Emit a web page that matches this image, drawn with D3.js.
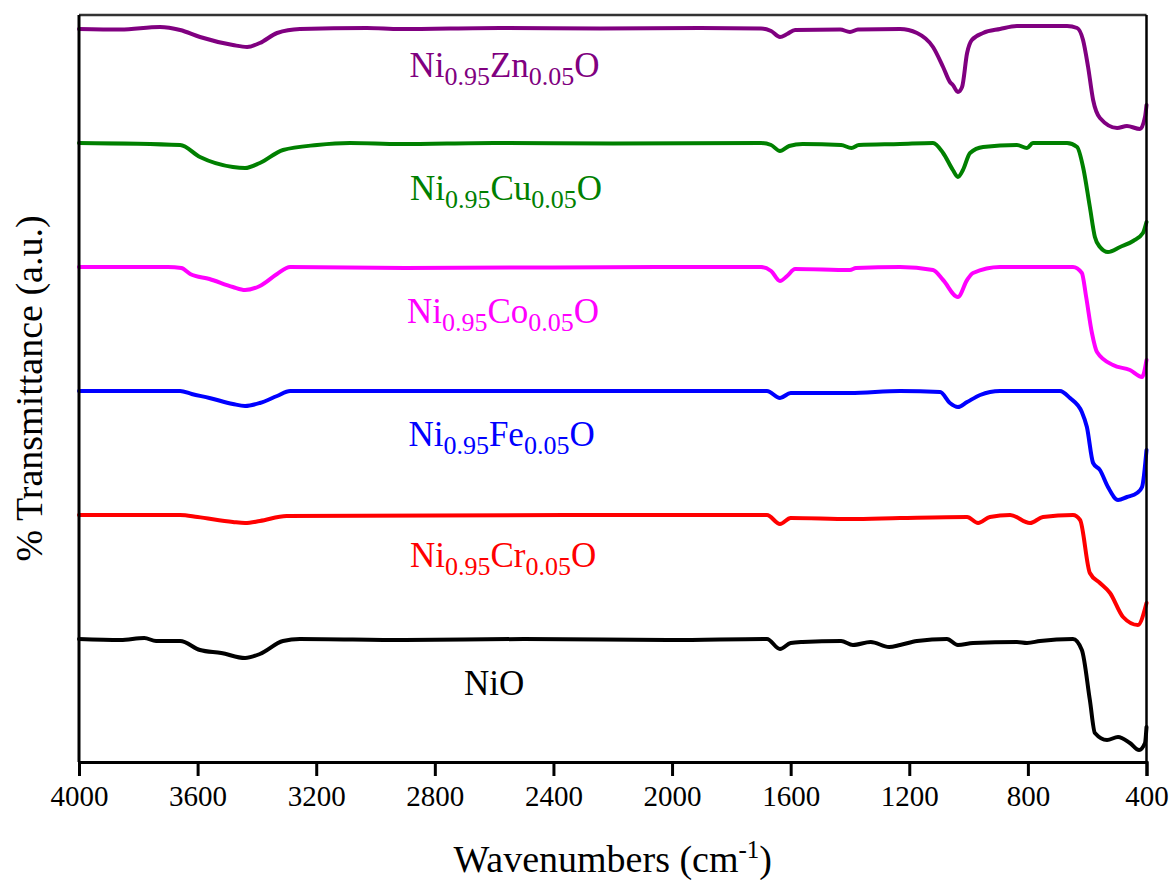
<!DOCTYPE html>
<html>
<head>
<meta charset="utf-8">
<script src="https://cdn.jsdelivr.net/npm/d3@7"></script>
<style>
  html, body { margin: 0; padding: 0; background: #fff; }
  svg { display: block; }
  text { font-family: "Liberation Serif", "Times New Roman", serif; }
</style>
</head>
<body>
<svg id="chart" width="1171" height="880"></svg>
<script>
// ---- data: [wavenumber (cm-1), transmittance (a.u., offset stacked)] ----
const xTicks = [4000, 3600, 3200, 2800, 2400, 2000, 1600, 1200, 800, 400];

const seriesNames = ["Ni0.95Zn0.05O", "Ni0.95Cu0.05O", "Ni0.95Co0.05O", "Ni0.95Fe0.05O", "Ni0.95Cr0.05O", "NiO"];

const zn = [[4000,73.3],[3860,73.25],[3727,73.5],[3659,73.2],[3592,72.5],[3481,71.7],[3433,71.5],[3390,71.9],[3332,72.9],[3255,73.3],[3029,73.4],[2917,73.3],[2580,73.4],[2243,73.35],[1905,73.4],[1700,73.35],[1666,73.1],[1636,72.5],[1612,72.8],[1585,73.2],[1433,73.25],[1400,73.0],[1373,73.25],[1231,73.3],[1174,72.9],[1120,71.5],[1086,69.5],[1063,68.0],[1053,67.7],[1036,67.0],[1022,67.5],[1005,70.9],[989,72.2],[951,72.9],[894,73.3],[837,73.6],[668,73.6],[634,73.4],[614,72.2],[597,69.5],[580,66.2],[557,64.4],[499,63.4],[466,63.6],[422,63.3],[405,64.5],[400,65.7]];

const cu = [[4000,61.9],[3659,61.7],[3592,60.5],[3481,59.5],[3440,59.4],[3390,59.9],[3312,61.2],[3197,61.7],[3086,61.9],[2917,61.8],[2600,61.9],[2200,61.85],[1700,61.9],[1666,61.7],[1636,61.1],[1605,61.6],[1560,61.8],[1430,61.7],[1395,61.4],[1370,61.7],[1231,61.8],[1120,61.9],[1086,60.9],[1053,59.2],[1036,58.5],[1019,59.2],[995,60.9],[951,61.5],[837,61.7],[803,61.4],[783,61.9],[668,61.9],[634,61.5],[614,59.5],[591,55.5],[574,52.5],[557,51.5],[530,51.0],[489,51.5],[445,52.1],[412,52.9],[400,54.0]];

const co = [[4000,49.5],[3700,49.5],[3655,49.4],[3625,48.8],[3560,48.3],[3481,47.5],[3440,47.2],[3390,47.6],[3332,48.8],[3288,49.5],[2900,49.4],[2000,49.5],[1700,49.5],[1666,49.1],[1636,48.1],[1612,48.6],[1585,49.3],[1400,49.2],[1380,49.4],[1231,49.5],[1120,49.2],[1086,48.2],[1036,46.5],[1005,48.2],[985,48.9],[894,49.5],[648,49.5],[618,48.9],[604,46.6],[584,42.9],[567,41.0],[513,39.7],[456,39.2],[415,38.5],[400,40.2]];

const fe = [[4000,37.1],[3659,37.1],[3620,36.8],[3560,36.4],[3481,35.8],[3440,35.6],[3390,35.9],[3332,36.6],[3288,37.1],[2000,37.1],[1680,37.1],[1636,36.4],[1600,36.9],[1400,36.9],[1231,37.1],[1096,37.0],[1063,35.9],[1036,35.5],[1005,36.0],[961,36.7],[894,37.1],[692,37.1],[658,36.4],[618,35.0],[601,33.5],[580,29.9],[557,29.2],[530,27.5],[496,26.2],[466,26.5],[432,26.9],[415,27.5],[400,31.2]];

const cr = [[4000,24.7],[3659,24.7],[3600,24.5],[3481,24.0],[3440,23.9],[3390,24.1],[3300,24.6],[2000,24.7],[1680,24.7],[1636,23.8],[1600,24.4],[1400,24.3],[1231,24.4],[1005,24.5],[968,23.9],[928,24.5],[860,24.7],[793,23.9],[749,24.5],[648,24.7],[624,24.2],[591,18.9],[557,17.9],[523,16.9],[479,14.5],[429,13.7],[400,15.9]];

const nio = [[4000,12.3],[3860,12.2],[3780,12.4],[3740,12.1],[3659,12.1],[3592,11.2],[3520,10.9],[3440,10.4],[3390,10.8],[3312,12.1],[3255,12.3],[2900,12.2],[2500,12.3],[2000,12.2],[1680,12.3],[1636,11.3],[1600,11.9],[1560,12.0],[1430,12.1],[1390,11.7],[1330,12.0],[1268,11.5],[1231,11.7],[1174,12.1],[1073,12.3],[1036,11.7],[985,11.9],[837,12.0],[803,11.9],[759,12.1],[648,12.3],[618,11.2],[591,6.2],[574,2.9],[533,2.2],[496,2.5],[456,1.9],[425,1.2],[405,1.9],[400,3.5]];

// label parts: [main, sub, main, sub, main]
const labelParts = [
  ["Ni","0.95","Zn","0.05","O"],
  ["Ni","0.95","Cu","0.05","O"],
  ["Ni","0.95","Co","0.05","O"],
  ["Ni","0.95","Fe","0.05","O"],
  ["Ni","0.95","Cr","0.05","O"],
  ["NiO"]
];
const labelPos = [[2565,68.5],[2560,56.2],[2570,43.9],[2575,31.6],[2570,19.5],[2600,6.7]];
const colors = ["#800080", "#008000", "#FF00FF", "#0000FF", "#FF0000", "#000000"];
const allSeries = [zn, cu, co, fe, cr, nio];

// ---- layout ----
const svg = d3.select("#chart");
const m = {left: 79, right: 1146.5, top: 15, bottom: 762};

const x = d3.scaleLinear().domain([4000, 400]).range([m.left, m.right]);
const y = d3.scaleLinear().domain([0, 74.7]).range([m.bottom, m.top]);

const line = d3.line()
  .x(d => x(d[0]))
  .y(d => y(d[1]))
  .curve(d3.curveMonotoneX);

const g = svg.append("g");

allSeries.forEach((s, i) => {
  g.append("path")
    .datum(s)
    .attr("d", line)
    .attr("fill", "none")
    .attr("stroke", colors[i])
    .attr("stroke-width", 4)
    .attr("stroke-linejoin", "round")
    .attr("stroke-linecap", "round");
});

// labels
labelParts.forEach((parts, i) => {
  const t = g.append("text")
    .attr("x", x(labelPos[i][0]))
    .attr("y", y(labelPos[i][1]))
    .attr("text-anchor", "middle")
    .attr("fill", colors[i])
    .attr("font-size", 35);
  parts.forEach((p, k) => {
    const isSub = k % 2 === 1;
    const ts = t.append("tspan").text(p);
    if (isSub) {
      ts.attr("font-size", 26).attr("dy", 8);
    } else if (k > 0) {
      ts.attr("dy", -8);
    }
  });
});

// frame: top and right borders
svg.append("line").attr("x1", m.left).attr("x2", m.right).attr("y1", m.top).attr("y2", m.top)
  .attr("stroke", "#333").attr("stroke-width", 2.5);
svg.append("line").attr("x1", m.right).attr("x2", m.right).attr("y1", m.top).attr("y2", m.bottom)
  .attr("stroke", "#000").attr("stroke-width", 2.5);
svg.append("line").attr("x1", m.left).attr("x2", m.left).attr("y1", m.top).attr("y2", m.bottom)
  .attr("stroke", "#000").attr("stroke-width", 3);

// bottom axis
const xAxis = d3.axisBottom(x).tickValues(xTicks).tickSize(14).tickPadding(9).tickFormat(d3.format("d"));
const ax = svg.append("g").attr("transform", `translate(0,${m.bottom})`).call(xAxis);
ax.attr("font-family", null);
ax.select(".domain").attr("stroke", "#000").attr("stroke-width", 3);
ax.selectAll(".tick line").attr("stroke", "#000").attr("stroke-width", 3);
ax.selectAll(".tick text").attr("font-size", 29).attr("fill", "#000")
  .style("font-family", "'Liberation Serif', 'Times New Roman', serif");

// axis titles
const xt = svg.append("text")
  .attr("x", (m.left + m.right) / 2)
  .attr("y", 872)
  .attr("text-anchor", "middle")
  .attr("font-size", 38)
  .attr("fill", "#000");
xt.append("tspan").text("Wavenumbers (cm");
xt.append("tspan").text("-1").attr("font-size", 25).attr("dy", -14);
xt.append("tspan").text(")").attr("dy", 14);

svg.append("text")
  .attr("transform", `translate(42,${(m.top + m.bottom) / 2}) rotate(-90)`)
  .attr("text-anchor", "middle")
  .attr("font-size", 38)
  .attr("fill", "#000")
  .text("% Transmittance (a.u.)");
</script>
</body>
</html>
